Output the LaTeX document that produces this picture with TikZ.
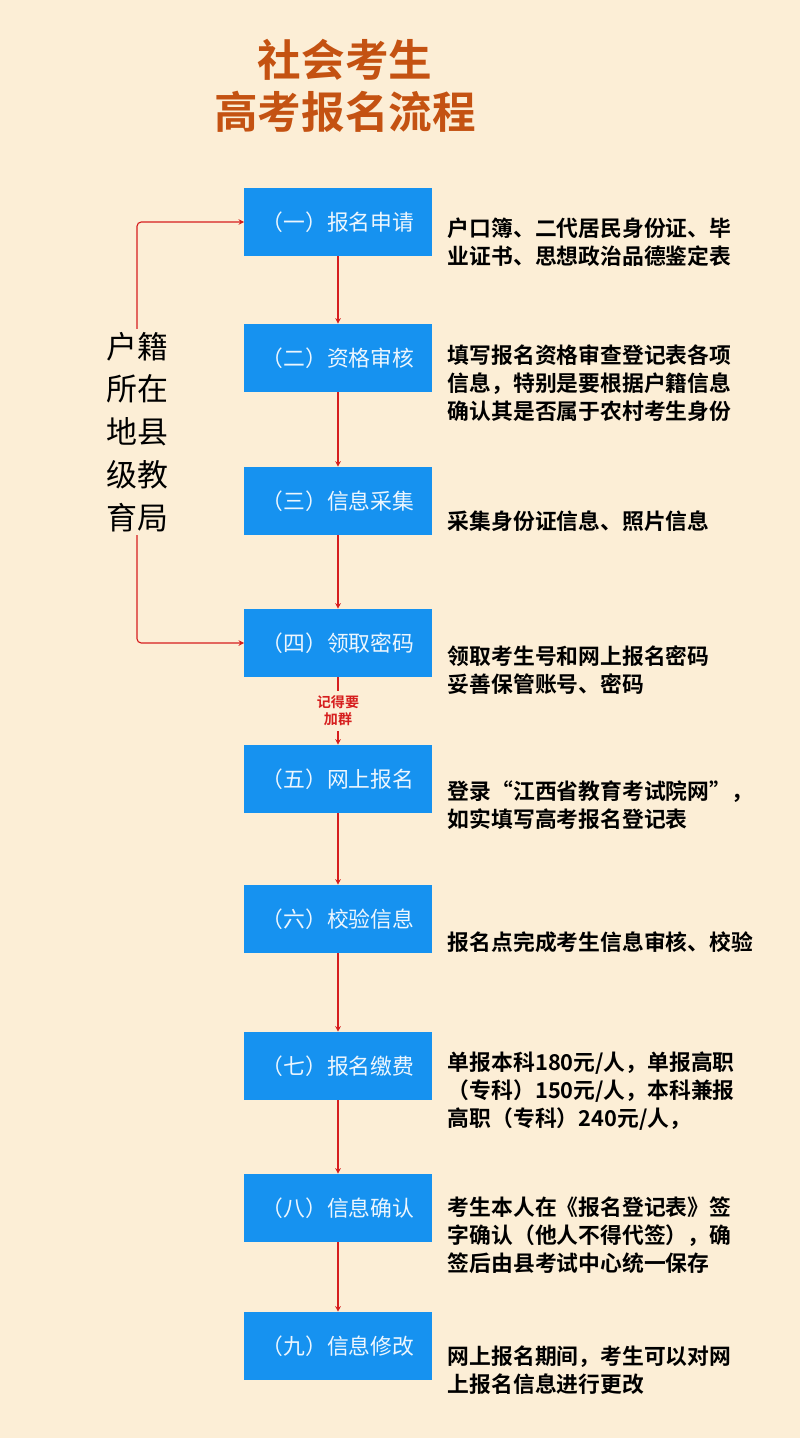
\documentclass[tikz,border=0pt]{standalone}
\usepackage{fontspec}
\setmainfont{Noto Sans CJK SC}
\newfontfamily\cjkbold{Noto Sans CJK SC Bold}
\usetikzlibrary{arrows.meta,positioning}
\definecolor{bgcolor}{RGB}{252,238,214}
\definecolor{stepcolor}{RGB}{22,146,240}
\definecolor{titlecolor}{RGB}{196,82,18}
\definecolor{linkcolor}{RGB}{214,30,30}

\begin{document}
\begin{tikzpicture}[x=0.025cm,y=-0.025cm,
    stepbox/.style={fill=stepcolor,minimum width=4.675cm,minimum height=1.7cm,
        text=white!92!stepcolor,font=\fontsize{15.5}{18}\selectfont},
    note/.style={anchor=west,align=left,font=\cjkbold\fontsize{15.5}{19.8}\selectfont},
    link/.style={linkcolor,thick,-{Stealth[length=4pt,width=4pt]}}]

    % Background
    \fill[bgcolor] (0,0) rectangle (800,1438);
    \useasboundingbox (0,0) rectangle (800,1438);

    % Title
    \node[titlecolor,align=center,font=\cjkbold\fontsize{31}{37}\selectfont] (title) at (345,86)
        {社会考生\\高考报名流程};

    % Steps
    \node[stepbox] (s1) at (338,222) {（一）报名申请};
    \node[stepbox] (s2) at (338,358) {（二）资格审核};
    \node[stepbox] (s3) at (338,501) {（三）信息采集};
    \node[stepbox] (s4) at (338,643) {（四）领取密码};
    \node[stepbox] (s5) at (338,779) {（五）网上报名};
    \node[stepbox] (s6) at (338,919) {（六）校验信息};
    \node[stepbox] (s7) at (338,1066) {（七）报名缴费};
    \node[stepbox] (s8) at (338,1208) {（八）信息确认};
    \node[stepbox] (s9) at (338,1346) {（九）信息修改};

    % Notes
    \node[note] (n1) at (443,242) {户口簿、二代居民身份证、毕\\业证书、思想政治品德鉴定表};
    \node[note] (n2) at (443,383) {填写报名资格审查登记表各项\\信息，特别是要根据户籍信息\\确认其是否属于农村考生身份};
    \node[note] (n3) at (443,521) {采集身份证信息、照片信息};
    \node[note] (n4) at (443,670) {领取考生号和网上报名密码\\妥善保管账号、密码};
    \node[note] (n5) at (443,805) {登录“江西省教育考试院网”，\\如实填写高考报名登记表};
    \node[note] (n6) at (443,942) {报名点完成考生信息审核、校验};
    \node[note] (n7) at (443,1091) {单报本科180元/人，单报高职\\（专科）150元/人，本科兼报\\高职（专科）240元/人，};
    \node[note] (n8) at (443,1235) {考生本人在《报名登记表》签\\字确认（他人不得代签），确\\签后由县考试中心统一保存};
    \node[note] (n9) at (443,1370) {网上报名期间，考生可以对网\\上报名信息进行更改};

    % Flow
    \foreach \a/\b in {s1/s2,s2/s3,s3/s4,s5/s6,s6/s7,s7/s8,s8/s9}
        \draw[link] (\a) -- (\b);
    \node[linkcolor,align=center,font=\cjkbold\fontsize{10}{12}\selectfont] (hint) at (338,711)
        {记得要\\加群};
    \draw[linkcolor,thick] (s4) -- (hint);
    \draw[link] (hint) -- (s5);

    % Office
    \node[align=center,inner sep=2pt,font=\fontsize{22}{30.5}\selectfont] (office) at (137,432)
        {户籍\\所在\\地县\\级教\\育局};
    \draw[link,rounded corners=3pt] (office.north) |- (s1.west);
    \draw[link,rounded corners=3pt] (office.south) |- (s4.west);
\end{tikzpicture}
\end{document}
